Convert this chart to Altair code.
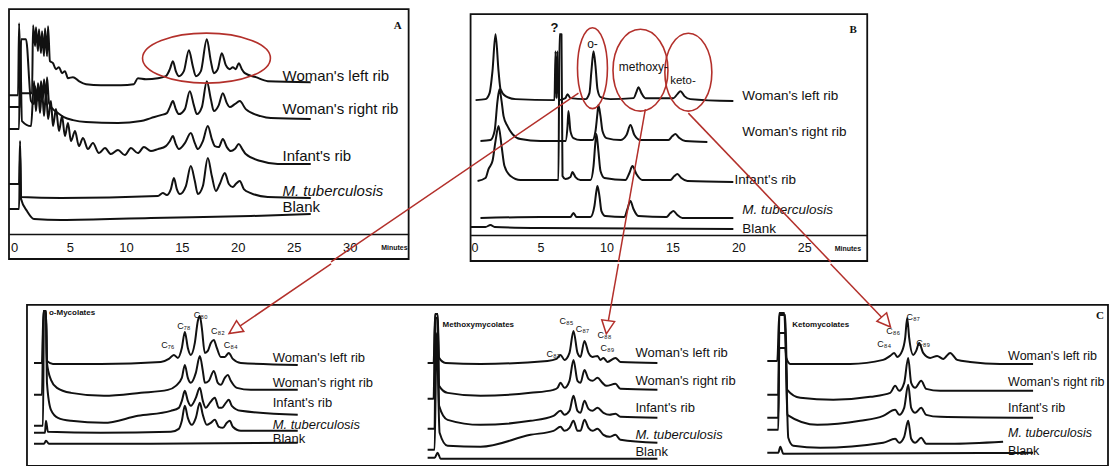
import altair as alt
import pandas as pd

SAMPLES = ["Woman's left rib", "Woman's right rib", "Infant's rib", "M. tuberculosis", "Blank"]

# ---------------- Panel A : retention time (min), stacked detector response ----------------
A_LEFT_RIB = [(-0.45,164),(0.36,164),(0.45,236),(0.63,166),(1.61,166),(1.70,234),(1.88,213),(1.96,232),
              (2.14,208),(2.23,230),(2.41,206),(2.50,228),(2.68,203),(2.77,231),(2.95,203),(3.04,233),
              (3.21,198),(3.48,196),(3.75,190),(4.02,192),(4.29,186),(4.55,188),(4.82,181),(5.27,182),
              (5.80,178),(6.43,175),(7.77,174),(9.55,174),(10.71,175),(11.07,181),(11.79,180),(12.86,181),
              (13.57,183),(13.93,190),(14.20,198),(14.46,188),(14.73,183),(15.18,188),(15.63,209),(15.98,193),
              (16.25,183),(16.70,188),(17.23,220),(17.59,198),(17.86,186),(18.21,190),(18.57,206),(18.93,194),
              (19.29,190),(19.55,192),(19.82,190),(20.09,196),(20.36,190),(20.63,186),(21.61,182),(22.68,178),
              (26.52,177)]
A_RIGHT_RIB = [(-0.45,152),(0.54,152),(0.63,220),(1.07,220),(1.52,158),(1.79,155),(1.88,173),(2.05,158),
               (2.14,176),(2.32,160),(2.41,178),(2.59,161),(2.68,180),(2.86,160),(2.95,182),(3.13,156),
               (3.48,150),(3.93,146),(4.46,142),(5.27,139),(6.43,137),(9.29,136),(11.34,138),(12.23,141),
               (13.13,144),(13.66,146),(13.93,152),(14.20,158),(14.46,150),(14.73,145),(15.27,150),(15.71,168),
               (16.07,154),(16.34,145),(16.79,152),(17.23,178),(17.59,160),(17.86,148),(18.30,154),(18.66,166),
               (19.02,156),(19.29,152),(19.73,155),(20.18,158),(20.71,150),(22.05,143),(22.95,141),(26.52,140)]
A_INFANT = [(-0.45,130),(0.45,130),(0.54,218),(0.71,138),(1.52,133),(1.79,178),(1.96,148),(2.14,173),
            (2.32,146),(2.50,170),(2.68,143),(2.86,168),(3.04,140),(3.30,158),(3.48,133),(3.75,150),
            (4.02,128),(4.29,143),(4.55,123),(4.82,136),(5.09,118),(5.45,128),(5.80,113),(6.16,121),
            (6.61,110),(7.05,116),(7.59,106),(8.13,111),(8.66,105),(9.29,109),(9.91,104),(10.45,111),
            (11.07,106),(11.61,112),(12.23,108),(12.86,110),(13.57,113),(13.93,118),(14.20,123),(14.46,115),
            (14.73,110),(15.27,116),(15.80,126),(16.16,116),(16.43,110),(16.88,118),(17.32,133),(17.68,120),
            (17.95,113),(18.30,112),(18.66,120),(19.02,112),(19.38,108),(19.73,110),(20.09,115),(20.40,110),
            (20.71,105),(22.05,98),(23.57,95),(26.52,95)]
A_MTB = [(-0.45,75),(0.45,75),(0.54,118),(0.63,62),(4.20,61),(12.86,63),(13.30,66),(13.66,64),(14.02,70),
         (14.29,81),(14.55,70),(14.82,65),(15.36,73),(15.80,93),(16.16,78),(16.43,65),(16.88,73),(17.32,101),
         (17.68,83),(18.04,68),(18.39,75),(18.84,86),(19.20,75),(19.55,72),(19.82,75),(20.18,78),(20.54,70),
         (21.16,66),(22.68,62),(26.52,61)]
A_BLANK = [(-0.45,50),(0.45,50),(0.54,108),(0.63,60),(1.16,48),(1.79,40),(4.20,39),(12.23,41),(21.16,43),(26.52,45)]
A_TRACES = [A_LEFT_RIB, A_RIGHT_RIB, A_INFANT, A_MTB, A_BLANK]
A_TICKS = [0, 5, 10, 15, 20, 25, 30]

# ---------------- Panel B ----------------
B_LEFT_RIB = [(0.08,161),(0.83,162),(1.14,168),(1.36,190),(1.59,227),(1.82,190),(1.97,172),(2.35,165),
              (3.11,162),(6.06,161),(6.14,210),(6.21,163),(6.29,210),(6.36,161),(6.89,163),(7.05,167),
              (7.27,163),(8.41,162),(8.71,168),(8.86,190),(9.02,210),(9.17,195),(9.32,172),(9.55,164),
              (10.30,162),(12.05,163),(12.27,169),(12.42,174),(12.65,168),(12.95,163),(15.08,163),(15.38,167),
              (15.61,170),(15.91,165),(16.36,162),(19.62,160)]
B_RIGHT_RIB = [(0.45,120),(1.21,121),(1.52,130),(1.74,160),(1.89,172),(2.05,160),(2.20,145),(2.50,135),
               (2.88,127),(3.48,122),(5.00,120),(6.89,120),(7.05,135),(7.12,150),(7.27,130),(7.50,123),
               (8.03,121),(8.94,121),(9.17,130),(9.32,148),(9.39,156),(9.55,145),(9.70,130),(10.00,123),
               (11.06,121),(11.52,126),(11.82,136),(12.12,126),(12.58,121),(14.70,121),(15.00,125),(15.23,127),
               (15.53,123),(15.98,120),(17.65,119)]
B_INFANT = [(0.23,80),(0.83,83),(1.06,92),(1.36,100),(1.59,120),(1.82,135),(2.05,115),(2.27,95),(2.73,85),
            (3.48,81),(6.36,81),(6.44,227),(6.59,227),(6.67,85),(6.89,82),(7.27,84),(7.42,89),(7.65,84),
            (8.03,81),(8.79,81),(9.02,95),(9.17,120),(9.24,127),(9.39,110),(9.55,90),(9.85,83),(11.44,81),
            (11.74,88),(11.97,95),(12.27,87),(12.73,81),(14.85,81),(15.15,85),(15.38,87),(15.68,83),(16.14,80),
            (19.62,79)]
B_MTB = [(0.45,43),(5.00,44),(7.27,44),(7.50,48),(7.73,44),(8.79,44),(9.09,55),(9.24,70),(9.32,75),(9.47,65),
         (9.62,50),(9.92,45),(11.36,44),(11.59,52),(11.82,60),(12.05,52),(12.42,45),(14.55,44),(14.85,48),
         (15.08,50),(15.38,46),(15.76,43),(19.62,43)]
B_BLANK = [(-0.30,34),(0.83,34),(1.21,36),(1.52,34),(5.00,33),(19.62,32)]
B_TRACES = [B_LEFT_RIB, B_RIGHT_RIB, B_INFANT, B_MTB, B_BLANK]
B_TICKS = [0, 5, 10, 15, 20, 25]
B_GROUPS = ["?", "o-", "methoxy-", "keto-"]

# ---------------- Panel C : three enlarged windows (arbitrary retention units) ----------------
C_PANELS = ["o-Mycolates", "Methoxymycolates", "Ketomycolates"]
C1 = [
    [(0,104),(8,104),(9.5,156),(12,156),(13,106),(19,103),(67,103),(127,105),(135,108),(140,112),(144,109),
     (148,119),(151,135),(154,119),(157,112),(161,124),(164,146),(166,151),(168,139),(171,114),(174,116),
     (177,124),(180,127),(183,119),(187,110),(191,110),(195,114),(199,108),(207,104),(264,102)],
    [(0,72),(8,72),(9.5,156),(12,156),(13,104),(17,87),(23,79),(37,74),(70,71),(107,74),(134,77),(142,81),
     (148,89),(151,102),(154,89),(157,84),(162,94),(166,111),(169,96),(171,84),(175,86),(180,96),(184,84),
     (187,82),(191,89),(194,92),(197,86),(203,79),(217,77),(264,77)],
    [(0,41),(9,41),(10,156),(12,156),(13,84),(17,57),(24,49),(37,46),(70,44),(104,51),(137,56),(145,59),
     (148,66),(151,76),(154,66),(157,61),(162,69),(166,79),(169,66),(172,59),(176,64),(181,69),(185,59),
     (188,59),(192,64),(195,67),(198,61),(207,56),(264,52)],
    [(0,34),(11,34),(12,46),(14,35),(67,34),(137,35),(145,38),(148,46),(151,61),(154,49),(158,42),(162,49),
     (166,64),(169,52),(173,42),(177,44),(181,47),(185,40),(189,39),(193,44),(196,46),(199,40),(207,36),(264,36)],
    [(0,23),(10,23),(12,26),(15,23),(117,23),(264,24)],
]
C2 = [
    [(0,104),(6,104),(7.5,153),(10,153),(11.5,109),(18,104),(53,103),(120,106),(129,108),(133,112),(137,107),
     (142,114),(146,136),(150,114),(153,110),(157,126),(161,114),(165,110),(170,111),(173,107),(176,109),
     (180,105),(188,109),(193,105),(230,104)],
    [(0,68),(6,68),(7.5,153),(10,153),(11.5,81),(20,74),(53,71),(103,74),(126,77),(130,79),(133,84),(137,79),
     (142,86),(146,107),(150,86),(153,84),(157,97),(161,88),(165,86),(170,89),(175,84),(179,81),(188,83),
     (193,78),(230,77)],
    [(0,38),(7,38),(8,149),(10,149),(11.5,61),(20,47),(53,42),(103,46),(126,51),(133,56),(137,52),(142,56),
     (146,71),(150,56),(153,54),(157,66),(161,58),(165,56),(170,59),(176,54),(182,52),(188,53),(193,50),(230,49)],
    [(0,17),(7,17),(9,134),(12,34),(20,21),(53,20),(103,32),(126,36),(133,40),(137,36),(142,39),(146,46),
     (150,36),(153,36),(157,47),(161,39),(165,36),(170,38),(176,32),(182,30),(188,32),(193,27),(230,24)],
    [(0,9),(7,9),(10,14),(13,8),(230,8)],
]
C3 = [
    [(0,106),(10,106),(12,154),(17,154),(19,109),(23,103),(83,103),(116,107),(123,111),(127,114),(130,110),
     (135,116),(138,129),(140,149),(142,129),(146,112),(149,116),(152,124),(156,114),(163,109),(170,111),
     (176,108),(183,114),(190,107),(203,105),(233,103),(266,103)],
    [(0,72),(11,72),(12,152),(18,152),(20,77),(33,69),(66,67),(103,70),(123,74),(128,81),(132,76),(137,84),
     (141,109),(144,84),(148,79),(154,86),(159,78),(173,76),(266,76)],
    [(0,49),(11,49),(12,134),(18,134),(20,52),(50,42),(93,46),(116,51),(128,57),(132,52),(137,59),(141,82),
     (144,59),(148,54),(154,59),(159,52),(173,50),(266,49)],
    [(0,37),(11,37),(12,119),(18,119),(21,29),(26,21),(53,19),(116,24),(128,28),(132,24),(137,30),(141,46),
     (144,28),(148,24),(154,29),(159,23),(183,23),(236,25)],
    [(0,14),(11,14),(13,20),(16,13),(266,14)],
]
C_TRACES = [C1, C2, C3]
C_PEAKS = [["C₇₆", "C₇₈", "C₈₀", "C₈₂", "C₈₄"],
           ["C₈₃", "C₈₅", "C₈₇", "C₈₈", "C₈₉"],
           ["C₈₄", "C₈₆", "C₈₇", "C₈₉"]]

# ---------------- layout / annotation placement ----------------
INK, RED = "#111111", "#b3302b"
SANS, SERIF = "Liberation Sans", "Liberation Serif"
LW = 2.0
A_W, A_H, B_W, B_H, C_W, C_H = 400, 250, 397, 252, 1102, 203
A_XDOM, A_YDOM = [-0.45, 35.27], [0, 250]
B_XDOM, B_YDOM = [-0.30, 29.77], [0, 252]
C_XDOM, C_YDOM = [8, 1110], [0, 203]
A_LABEL_POS = [(24.0, 183), (24.0, 150), (24.0, 103), (24.0, 68), (24.0, 52)]
B_LABEL_POS = [(20.3, 165), (20.3, 129), (19.7, 81), (20.3, 51), (20.3, 32)]
B_GROUP_POS = [(6.06, 233, 13, "bold"), (8.94, 217, 12, "normal"), (12.8, 194, 12, "normal"),
               (15.8, 180, 11.5, "normal")]
B_ELLIPSES = [(8.94, 193, 30, 81), (12.58, 191, 55, 82), (16.21, 189, 47, 78)]
A_ELLIPSES = [(17.2, 201, 128, 50)]
C_X0 = [33, 427, 767]
C_TITLE_POS = [(48, 154), (442, 142), (792, 142)]
C_LABEL_X = [272, 635, 1008]
C_LABEL_V = [[109, 84, 64, 42, 28], [114, 86, 59, 32, 15], [111, 85, 59, 34, 16]]
C_LABEL_SIZE = [13, 13, 12.5]
C_PEAK_POS = [[(167,122),(183,141),(200,152),(217,136),(230,122)],
              [(553,113),(566,146),(582,138),(604,132),(607,119)],
              [(884,123),(893,136),(913,150),(923,124)]]
# arrows from the B ellipses down to the C windows: upper part in B units, lower part in C units
B_ARROWS = [(7.88, 168, -10.88, -0.9), (12.95, 152, 10.91, -0.9), (16.21, 148, 27.0, -0.9)]
C_ARROWS = [(330.4, 203, 235, 138, 236), (618.0, 203, 607, 141, 188), (830.4, 203, 885, 146, 139)]
HEAD = "M0,-1L0.8,0.65L-0.8,0.65Z"


def frame(traces, x0=0.0, prefix=""):
    rows = []
    for k, tr in enumerate(traces):
        for i, (t, v) in enumerate(tr):
            rows.append({"trace": prefix + SAMPLES[k], "i": i, "t": x0 + t, "v": v})
    return pd.DataFrame(rows)


def label_layers(df, xe, ye, size):
    base = dict(align="left", baseline="middle", font=SANS, fontSize=size, color=INK)
    n = alt.Chart(df[df.label != "M. tuberculosis"]).mark_text(**base).encode(
        x=xe("t"), y=ye("v"), text="label:N")
    it = alt.Chart(df[df.label == "M. tuberculosis"]).mark_text(fontStyle="italic", **base).encode(
        x=xe("t"), y=ye("v"), text="label:N")
    return [n, it]


def ellipse_layer(cx, cy, ew, eh, xe, ye):
    if ew >= eh:
        r = round(eh / ew, 3)
        shp, size = f"M-1,0A1,{r},0,1,1,1,0A1,{r},0,1,1,-1,0Z", ew * ew
    else:
        r = round(ew / eh, 3)
        shp, size = f"M0,-1A{r},1,0,1,1,0,1A{r},1,0,1,1,0,-1Z", eh * eh
    return alt.Chart(pd.DataFrame([{"t": cx, "v": cy}])).mark_point(
        shape=shp, size=size, filled=False, color=RED, strokeWidth=1.6, opacity=1).encode(x=xe("t"), y=ye("v"))


def text_layer(t, v, s, xe, ye, **kw):
    return alt.Chart(pd.DataFrame([{"t": t, "v": v, "s": s}])).mark_text(color=INK, **kw).encode(
        x=xe("t"), y=ye("v"), text="s:N")


def panel(traces, xdom, ydom, ticks, offset, fsize, pad, w, h, box_top, label_pos, label_size,
          letter, letter_pos, minutes_pos, ellipses, groups, arrows):
    axis = alt.Axis(values=ticks, offset=offset, ticks=False, grid=False, domainColor=INK, domainWidth=1.6,
                    labelFont=SANS, labelFontSize=fsize, labelColor=INK, labelPadding=pad,
                    labelFlush=False, title=None)

    def xe(f):
        return alt.X(f"{f}:Q", scale=alt.Scale(domain=xdom, nice=False, zero=False), axis=axis)

    def ye(f):
        return alt.Y(f"{f}:Q", scale=alt.Scale(domain=ydom, nice=False, zero=False), axis=None)

    box = alt.Chart(pd.DataFrame([{"t": xdom[0], "t1": xdom[1], "v": 0, "v1": box_top}])).mark_rect(
        filled=False, stroke=INK, strokeWidth=1.8).encode(x=xe("t"), x2="t1:Q", y=ye("v"), y2="v1:Q")
    lines = alt.Chart(frame(traces)).mark_line(color=INK, strokeWidth=LW, interpolate="monotone",
                                               strokeJoin="round").encode(
        x=xe("t"), y=ye("v"), detail="trace:N", order="i:Q")
    ldf = pd.DataFrame([{"label": s, "t": p[0], "v": p[1]} for s, p in zip(SAMPLES, label_pos)])
    layers = [box, lines] + label_layers(ldf, xe, ye, label_size)
    layers.append(text_layer(*letter_pos, letter, xe, ye, font=SERIF, fontWeight="bold", fontSize=11))
    layers.append(text_layer(*minutes_pos, "Minutes", xe, ye, font=SANS, fontWeight="bold", fontSize=7))
    for e in ellipses:
        layers.append(ellipse_layer(*e, xe, ye))
    for s, (gt, gv, gs, gw) in groups:
        layers.append(text_layer(gt, gv, s, xe, ye, font=SANS, fontSize=gs, fontWeight=gw))
    if arrows:
        adf = pd.DataFrame([{"t": a[0], "v": a[1], "t2": a[2], "v2": a[3]} for a in arrows])
        layers.append(alt.Chart(adf).mark_rule(color=RED, strokeWidth=1.5).encode(
            x=xe("t"), y=ye("v"), x2="t2:Q", y2="v2:Q"))
    return alt.layer(*layers).properties(width=w, height=h)


chart_a = panel(A_TRACES, A_XDOM, A_YDOM, A_TICKS, -25, 13, 8, A_W, A_H, 250, A_LABEL_POS, 15,
                "A", (34.3, 233), (34.0, 11), A_ELLIPSES, [], [])
chart_b = panel(B_TRACES, B_XDOM, B_YDOM, B_TICKS, -26, 12.5, 7, B_W, B_H, 247, B_LABEL_POS, 13.5,
                "B", (28.7, 231), (28.3, 12), B_ELLIPSES, list(zip(B_GROUPS, B_GROUP_POS)), B_ARROWS)


# ---------------- Panel C ----------------
def xc(f):
    return alt.X(f"{f}:Q", scale=alt.Scale(domain=C_XDOM, nice=False, zero=False), axis=None)


def yc(f):
    return alt.Y(f"{f}:Q", scale=alt.Scale(domain=C_YDOM, nice=False, zero=False), axis=None)


c_df = pd.concat([frame(tr, x0, p + "|") for p, tr, x0 in zip(C_PANELS, C_TRACES, C_X0)], ignore_index=True)
c_labels = pd.DataFrame([{"label": s, "t": C_LABEL_X[p], "v": C_LABEL_V[p][k], "p": p}
                         for p in range(3) for k, s in enumerate(SAMPLES)])
c_peaks = pd.DataFrame([{"s": s, "t": pos[0], "v": pos[1]}
                        for names, poss in zip(C_PEAKS, C_PEAK_POS) for s, pos in zip(names, poss)])
c_titles = pd.DataFrame([{"s": s, "t": p[0], "v": p[1]} for s, p in zip(C_PANELS, C_TITLE_POS)])
c_arrows = pd.DataFrame([{"t": a[0], "v": a[1], "t2": a[2], "v2": a[3], "ang": a[4]} for a in C_ARROWS])

c_layers = [
    alt.Chart(pd.DataFrame([{"t": 26, "t1": 1108, "v": 1, "v1": 162}])).mark_rect(
        filled=False, stroke=INK, strokeWidth=1.8).encode(x=xc("t"), x2="t1:Q", y=yc("v"), y2="v1:Q"),
    alt.Chart(c_df).mark_line(color=INK, strokeWidth=LW, interpolate="monotone", strokeJoin="round").encode(
        x=xc("t"), y=yc("v"), detail="trace:N", order="i:Q"),
    alt.Chart(c_peaks).mark_text(font=SANS, fontSize=9, color=INK).encode(x=xc("t"), y=yc("v"), text="s:N"),
    alt.Chart(c_titles).mark_text(font=SANS, fontSize=8, fontWeight="bold", align="left", color=INK).encode(
        x=xc("t"), y=yc("v"), text="s:N"),
    text_layer(1100, 151, "C", xc, yc, font=SERIF, fontSize=11, fontWeight="bold"),
]
for p in range(3):
    c_layers += label_layers(c_labels[c_labels.p == p], xc, yc, C_LABEL_SIZE[p])
c_layers += [
    alt.Chart(c_arrows).mark_rule(color=RED, strokeWidth=1.5).encode(
        x=xc("t"), y=yc("v"), x2="t2:Q", y2="v2:Q"),
    alt.Chart(c_arrows).mark_point(shape=HEAD, size=260, filled=True, fill="white", stroke=RED,
                                   strokeWidth=1.5, opacity=1).encode(
        x=xc("t2"), y=yc("v2"), angle=alt.Angle("ang:Q", scale=None)),
]
chart_c = alt.layer(*c_layers).properties(width=C_W, height=C_H)

chart = alt.vconcat(
    alt.hconcat(chart_a, chart_b, spacing=62, bounds="flush"),
    chart_c, spacing=0,
).properties(padding=0, background="white").configure_view(stroke=None)

chart.save("out.html", embed_options={"renderer": "svg", "actions": False})
